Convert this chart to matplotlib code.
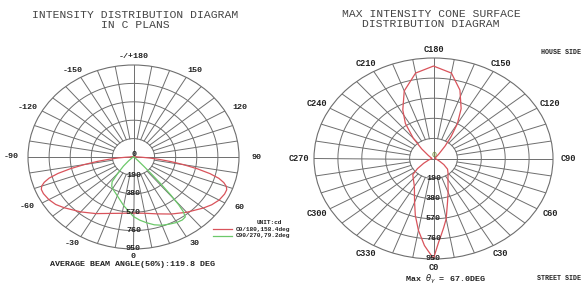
import numpy as np
import matplotlib.pyplot as plt

W, H = 583, 285
GRID = "#6e6e6e"
RED = "#d9535b"
GREEN = "#6cc86a"
TXT = "#222222"
MONO = "Liberation Mono"

RINGS = [190, 380, 570, 760, 950]
RMAX = 950

# left chart: intensity (cd) vs gamma angle, C0 side (right) and C180 side (left)
GAMMA = [0, 10, 20, 30, 40, 50, 55, 60, 65, 68, 70, 72, 74, 76, 78, 80, 82, 84, 86, 88, 90, 100, 120, 150, 180]
C0_CD = [580, 590, 625, 680, 745, 820, 860, 890, 905, 905, 890, 855, 800, 710, 590, 460, 340, 230, 140, 75, 40, 15, 8, 5, 5]
C180_CD = [580, 590, 620, 675, 740, 815, 855, 880, 895, 895, 880, 845, 790, 700, 580, 450, 330, 220, 135, 70, 35, 15, 8, 5, 5]

# C90/270 plane (negative = C270 side)
C90_ANG = [-90, -75, -60, -48, -44, -40, -37, -33, -28, -21, -10, 0, 5, 10, 15, 20, 25, 30, 34, 37,
           38.5, 39.5, 40.5, 41.5, 42.5, 44, 47, 52, 60, 75, 90]
C90_CD = [0, 3, 10, 60, 130, 220, 320, 360, 385, 420, 510, 615, 655, 690, 725, 750, 765, 780, 785, 775,
          720, 640, 520, 380, 250, 140, 60, 25, 10, 3, 0]

# right chart: max intensity cone (gamma = 67 deg) vs C angle
CONE_C = [0, 3, 5, 7, 10, 15, 20, 30, 40, 48, 55, 62, 75, 90, 110, 120, 135, 142, 146, 150, 155, 162, 170,
          180, 190, 200, 208, 214, 220, 226, 235, 250, 270, 290, 300, 307, 313, 320, 330, 340, 345, 350,
          353, 355, 357, 360]
CONE_CD = [945, 790, 720, 660, 580, 430, 340, 230, 180, 150, 100, 55, 25, 12, 15, 20, 60, 150, 250, 380, 520, 680, 820,
           874, 820, 680, 520, 400, 250, 130, 50, 20, 12, 40, 90, 160, 225, 250, 304, 440, 558, 690,
           765, 826, 870, 945]

LEFT_TICKS = [0, 30, 60, 90, 120, 150, 180, 210, 240, 270, 300, 330]
LEFT_LABELS = ["0", "30", "60", "90", "120", "150", "-/+180", "-150", "-120", "-90", "-60", "-30"]
RIGHT_TICKS = [0, 30, 60, 90, 120, 150, 180, 210, 240, 270, 300, 330]
RIGHT_LABELS = ["C0", "C30", "C60", "C90", "C120", "C150", "C180", "C210", "C240", "C270", "C300", "C330"]


def px_box(x0, y0, x1, y1):
    return [x0 / W, 1 - y1 / H, (x1 - x0) / W, (y1 - y0) / H]


def polar_frame(ax):
    ax.set_aspect("auto")
    ax.set_theta_zero_location("S")
    ax.set_theta_direction(1)
    ax.set_ylim(0, RMAX)
    ax.set_xticks([])
    ax.set_yticks([])
    ax.grid(False)
    ax.spines["polar"].set_color(GRID)
    ax.spines["polar"].set_linewidth(0.8)
    t = np.linspace(0, 2 * np.pi, 361)
    for r in RINGS[:-1]:
        ax.plot(t, np.full_like(t, r), color=GRID, lw=0.7)
    for a in range(0, 360, 10):
        r0 = 0 if a % 90 == 0 else RINGS[0]
        ax.plot([np.radians(a)] * 2, [r0, RMAX], color=GRID, lw=0.7)


def angle_labels(ax, ticks, labels, ox, oy, size):
    for a, lab in zip(ticks, labels):
        th = np.radians(a)
        ax.annotate(lab, xy=(th, RMAX), xytext=(ox * np.sin(th), -oy * np.cos(th)),
                    textcoords="offset pixels", ha="center", va="center",
                    fontsize=size, family=MONO, weight="bold", color=TXT, annotation_clip=False)


def ring_labels(ax, size):
    for r in RINGS:
        ax.text(0, r, str(r), ha="center", va="center", fontsize=size,
                family=MONO, weight="bold", color=TXT)


fig = plt.figure(figsize=(W / 100, H / 100), dpi=100)

# ---- left chart
axl = fig.add_axes(px_box(28, 65, 239, 249), projection="polar")
polar_frame(axl)
g = np.radians(GAMMA)
theta_red = np.concatenate([-g[::-1], g])
r_red = np.concatenate([C180_CD[::-1], C0_CD])
axl.plot(theta_red, r_red, color=RED, lw=0.9)
axl.plot(np.radians(C90_ANG), C90_CD, color=GREEN, lw=0.9)
angle_labels(axl, LEFT_TICKS, LEFT_LABELS, 17, 8, 6)
ring_labels(axl, 6)
axl.annotate("0", xy=(0, 0), xytext=(0, 3), textcoords="offset pixels", ha="center",
             va="center", fontsize=6, family=MONO, weight="bold", color=TXT)

# ---- right chart
axr = fig.add_axes(px_box(314, 58, 553, 259), projection="polar")
polar_frame(axr)
axr.plot(np.radians(CONE_C), CONE_CD, color=RED, lw=0.9)
angle_labels(axr, RIGHT_TICKS, RIGHT_LABELS, 15, 9, 6.2)
ring_labels(axr, 6)
axr.annotate("0", xy=(0, 0), xytext=(0, 3), textcoords="offset pixels", ha="center",
             va="center", fontsize=6, family=MONO, color="#6b8a2a")

# ---- titles and notes
def ftext(x, y, s, size, **kw):
    kw.setdefault("ha", "center")
    fig.text(x / W, 1 - y / H, s, fontsize=size, family=MONO, va="center", color=kw.pop("color", TXT), **kw)

ftext(135, 15, "INTENSITY DISTRIBUTION DIAGRAM", 8.2, color="#444444")
ftext(135, 25, "IN C PLANS", 8.2, color="#444444")
ftext(431, 14, "MAX INTENSITY CONE SURFACE", 8.2, color="#444444")
ftext(431, 24, "DISTRIBUTION DIAGRAM", 8.2, color="#444444")
ftext(133, 265, "AVERAGE BEAM ANGLE(50%):119.8 DEG", 6, weight="bold")
ftext(581, 53, "HOUSE SIDE", 4.8, ha="right", weight="bold")
ftext(581, 278, "STREET SIDE", 4.8, ha="right", weight="bold")
ftext(405, 279, r"Max $\theta_{\gamma}$ = 67.0DEG", 6, ha="left", weight="bold")

# legend
ftext(257, 222, "UNIT:cd", 4.4, ha="left", weight="bold")
fig.add_artist(plt.Line2D([213 / W, 232 / W], [1 - 229 / H] * 2, color=RED, lw=0.9))
ftext(236, 229, "C0/180,158.4deg", 4.4, ha="left", weight="bold")
fig.add_artist(plt.Line2D([213 / W, 232 / W], [1 - 236 / H] * 2, color=GREEN, lw=0.9))
ftext(236, 236, "C90/270,79.2deg", 4.4, ha="left", weight="bold")

fig.savefig("out.png", dpi=100, facecolor="white")
